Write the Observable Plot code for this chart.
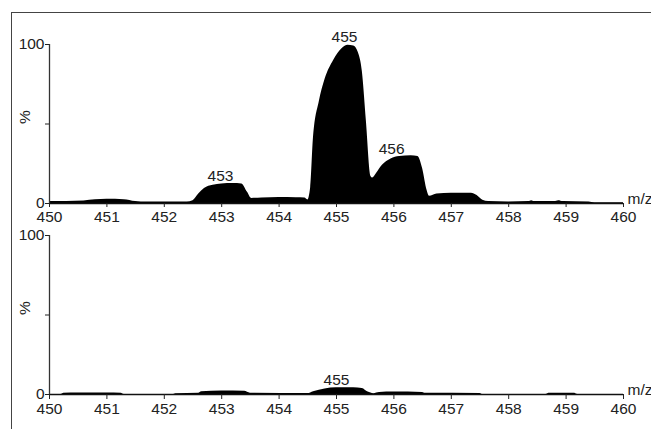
<!DOCTYPE html>
<html>
<head>
<meta charset="utf-8">
<script src="https://cdn.jsdelivr.net/npm/d3@7"></script>
<script src="https://cdn.jsdelivr.net/npm/@observablehq/plot@0.6"></script>
<style>
  html, body { margin: 0; padding: 0; background: #fff; overflow: hidden; }
  #wrap { position: relative; width: 651px; height: 429px; overflow: hidden; font-family: "Liberation Sans", Arial, sans-serif; }
  #frame { position: absolute; left: 11px; top: 12px; width: 700px; height: 500px; border-left: 1px solid #444; border-top: 1px solid #444; }
  .panel { position: absolute; left: 0; }
</style>
</head>
<body>
<div id="wrap"><div id="frame"></div><div id="p1" class="panel" style="top:0"></div><div id="p2" class="panel" style="top:222px"></div></div>
<script>
// Top spectrum (m/z, relative intensity %)
const topMz = [450.0,450.3,450.6,450.8,451.0,451.3,451.5,451.6,452.0,452.4,452.5,452.6,452.7,452.85,453.0,453.2,453.35,453.45,453.52,453.7,454.0,454.3,454.45,454.5,454.55,454.6,454.7,454.8,454.95,455.1,455.2,455.3,455.38,455.45,455.52,455.6,455.63,455.7,455.8,455.95,456.1,456.3,456.42,456.5,456.58,456.62,456.75,457.0,457.35,457.45,457.55,457.65,458.0,458.35,458.4,458.45,458.8,458.87,458.95,459.4,459.5,460.0];
const topPct = [1.2,1.3,1.6,2.3,2.6,2.4,1.2,0.9,1.0,1.0,1.8,6,9.5,11.5,12.3,12.6,12.3,7,3.2,3.5,3.8,3.6,3.4,2.2,10,42,64,78,90,97.5,99.5,99,95,83,52,17,16,19,24,28,29.5,30,29.5,22,8,4.5,6,6.5,6.5,5,2,1.2,1.0,1.2,1.8,1.2,1.2,1.8,1.3,1.0,0.5,0.4];
// Bottom spectrum
const botMz = [450.0,450.2,450.25,450.5,451.0,451.25,451.3,452.15,452.2,452.6,452.65,453.0,453.4,453.5,454.5,454.6,454.8,455.0,455.3,455.45,455.55,455.65,455.75,456.0,456.5,456.55,457.5,457.55,458.65,458.7,459.15,459.2,460.0];
const botPct = [0,0,0.8,1,1,0.8,0,0,0.5,0.8,1.8,2.2,2,0.8,0.6,1.8,3.5,4.2,4.3,3.8,1.5,0.5,1.2,1.5,1.3,0.8,0.7,0,0,0.8,0.8,0,0];
// Peak annotations
const topPeakMz = [452.98, 455.14, 455.96];
const topPeakPct = [12.6, 100, 30];
const topPeakText = ["453", "455", "456"];
const botPeakMz = [455.0];
const botPeakPct = [4.3];
const botPeakText = ["455"];
// Axis ticks
const xTicks = [450,451,452,453,454,455,456,457,458,459,460];
const yTicks = [0, 50, 100];
const yTickLabels = ["0", "", "100"];
const xLabel = "m/z";
const yLabel = "%";

const FS = 15.5;
function panel(mz, pct, pkMz, pkPct, pkText, opts) {
  const data = mz.map((m, i) => ({mz: m, pct: pct[i]}));
  const peaks = pkMz.map((m, i) => ({mz: m, pct: pkPct[i], t: pkText[i]}));
  return Plot.plot({
    width: 651,
    height: opts.height,
    marginTop: opts.marginTop,
    marginBottom: opts.marginBottom,
    marginLeft: 49,
    marginRight: 28,
    style: {fontFamily: '"Liberation Sans", Arial, sans-serif', fontSize: FS + "px", background: "transparent", color: "#222", overflow: "visible"},
    x: {domain: [450, 460]},
    y: {domain: [0, 100]},
    marks: [
      Plot.areaY(data, {x: "mz", y: "pct", fill: "black", curve: "monotone-x"}),
      Plot.ruleY([0], {x1: 450, x2: 460, stroke: "#111", strokeWidth: 1.3}),
      Plot.ruleX([450], {y1: 0, y2: 100, stroke: "#333", strokeWidth: 1.3}),
      Plot.axisX({ticks: xTicks, tickSize: opts.tickSize, tickPadding: opts.tickPadding, tickFormat: d => String(d), label: null, stroke: "#222", fontSize: FS}),
      Plot.axisY({ticks: yTicks, tickSize: 4, tickPadding: 1, tickFormat: d => yTickLabels[yTicks.indexOf(d)], label: null, stroke: "#222", fontSize: FS}),
      Plot.text([yLabel], {frameAnchor: "left", dx: -24, rotate: -90, text: d => d, fill: "#222", fontSize: FS}),
      Plot.text([xLabel], {frameAnchor: "bottom-right", dx: 4, dy: 0, textAnchor: "start", text: d => d, fill: "#222", fontSize: FS}),
      Plot.text(peaks, {x: "mz", y: "pct", text: "t", dy: opts.peakDy, fill: "#222", fontSize: FS})
    ]
  });
}

document.getElementById("p1").appendChild(panel(topMz, topPct, topPeakMz, topPeakPct, topPeakText,
  {height: 222, marginTop: 44, marginBottom: 19, tickSize: 4, tickPadding: 3, peakDy: -7}));
document.getElementById("p2").appendChild(panel(botMz, botPct, botPeakMz, botPeakPct, botPeakText,
  {height: 207, marginTop: 13, marginBottom: 35, tickSize: 5, tickPadding: 3, peakDy: -8}));
</script>
</body>
</html>
